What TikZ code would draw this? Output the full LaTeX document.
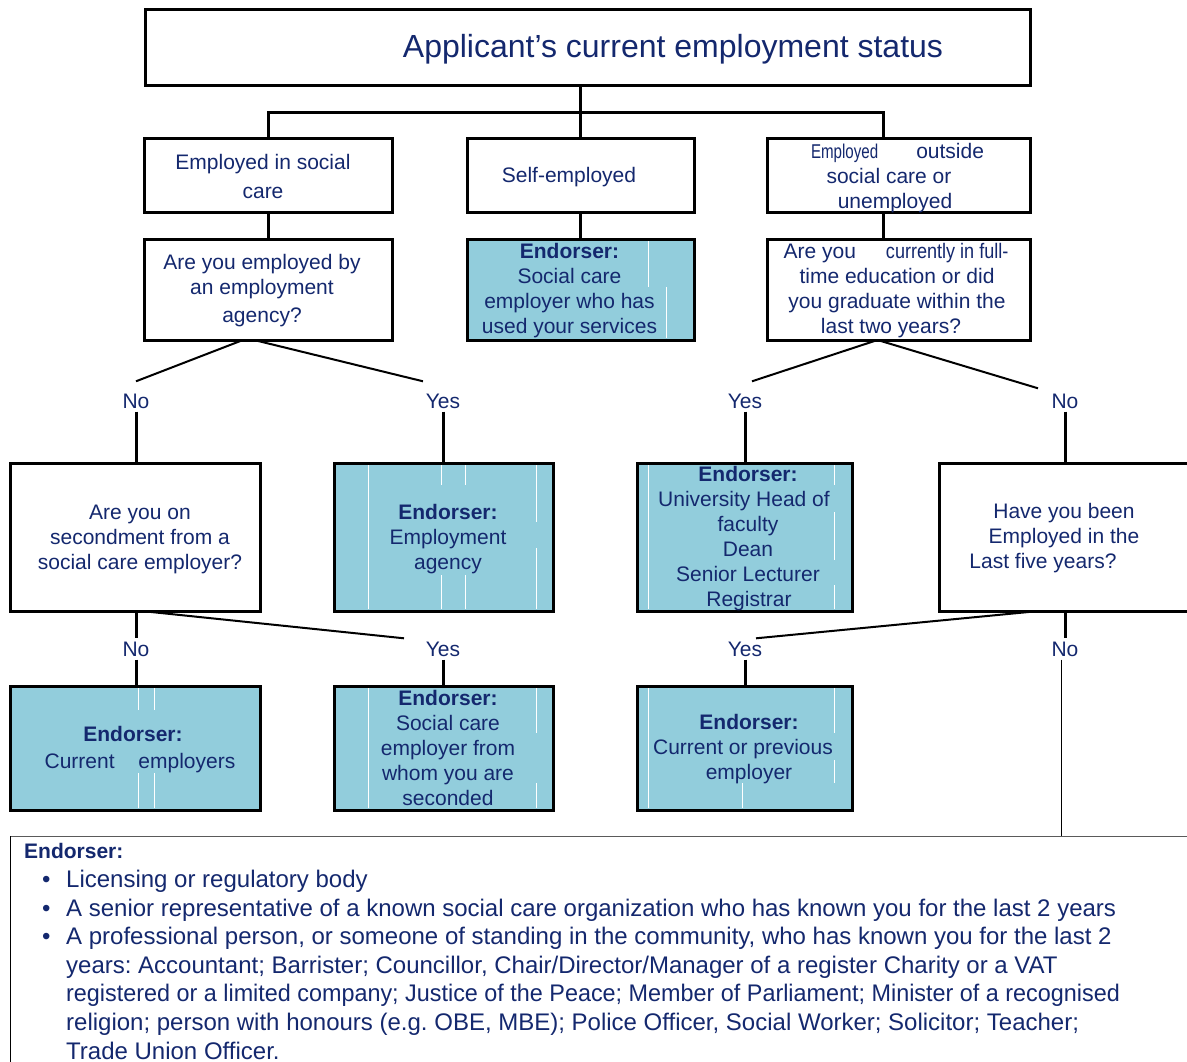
\documentclass[tikz,border=0pt]{standalone}
\usepackage{fontspec}
\setmainfont{Liberation Sans}
\usepackage{graphicx}
\definecolor{navy}{RGB}{20,40,110}
\definecolor{endfill}{RGB}{146,205,220}
\definecolor{legline}{RGB}{90,90,90}
\frenchspacing
\begin{document}
\begin{tikzpicture}[x=1pt,y=-1pt,
  qbox/.style={draw=black, line width=3pt, fill=white, inner sep=0pt, outer sep=0pt},
  ebox/.style={qbox, fill=endfill},
  txt/.style={text=navy, align=center, inner sep=0pt, yshift=-2pt, font=\fontsize{21}{25}\selectfont},
  yn/.style={text=navy, inner xsep=0pt, inner ysep=3pt, text height=15pt, text depth=0pt, font=\fontsize{21}{25}\selectfont},
  conn/.style={line width=3pt},
  diag/.style={line width=2pt},
  glitch/.style={white, line width=1pt}]
\useasboundingbox (0,0) rectangle (1187,1062);
% boxes
\node[qbox, minimum width=885, minimum height=76] (title) at (587.5,48) {};
\node[qbox, minimum width=248, minimum height=74] (esc) at (268,176) {};
\node[qbox, minimum width=227, minimum height=74] (self) at (580.5,176) {};
\node[qbox, minimum width=263, minimum height=74] (outs) at (898.5,176) {};
\node[qbox, minimum width=248, minimum height=101] (agq) at (268,289.5) {};
\node[ebox, minimum width=227, minimum height=101] (e1) at (580.5,289.5) {};
\node[qbox, minimum width=263, minimum height=101] (ftq) at (898.5,289.5) {};
\node[qbox, minimum width=250, minimum height=148] (secq) at (135,537) {};
\node[ebox, minimum width=219, minimum height=148] (e2) at (443.5,537) {};
\node[ebox, minimum width=215, minimum height=148] (univ) at (744.5,537) {};
\node[qbox, minimum width=250, minimum height=148] (have) at (1064,537) {};
\node[ebox, minimum width=250, minimum height=124] (e3) at (135,748) {};
\node[ebox, minimum width=219, minimum height=124] (e4) at (443.5,748) {};
\node[ebox, minimum width=215, minimum height=124] (e5) at (744.5,748) {};
\node[draw=legline, line width=1.2pt, inner sep=0pt, anchor=north west, minimum width=1200, minimum height=260] (legend) at (10,836) {};
\draw[black, line width=1pt] (legend.north west) -- (legend.south west);
% glitch lines
\draw[glitch] (648,241) -- (648,287) (666,287) -- (666,338);
\draw[glitch] (368.5,465) -- (368.5,609) (441,465) -- (441,485) (441,575) -- (441,609)
  (465.7,465) -- (465.7,485) (465.7,575) -- (465.7,609) (536.5,465) -- (536.5,522) (536.5,548) -- (536.5,609);
\draw[glitch] (138.5,688) -- (138.5,710) (154.6,688) -- (154.6,710) (138.5,773) -- (138.5,808) (154.6,773) -- (154.6,808);
\draw[glitch] (368.5,688) -- (368.5,808) (536.5,688) -- (536.5,733) (536.5,783) -- (536.5,808);
\draw[glitch] (648,465) -- (648,609) (834.5,465) -- (834.5,485) (834.5,512) -- (834.5,560) (834.5,585) -- (834.5,609);
\draw[glitch] (648,688) -- (648,808) (834.5,688) -- (834.5,733) (834.5,760) -- (834.5,783) (742,783) -- (742,808);
% texts
\node[txt, font=\fontsize{32}{38}\selectfont] (titleT) at (673,47) {Applicant’s current employment status};
\node[txt] (escT) at (263,174.5) {Employed in social\\[4pt]care};
\node[txt] (selfT) at (569,175) {Self-employed};
\node[txt] (outsT) at (889,176) {\hspace*{17pt}\scalebox{0.72}[0.95]{Employed}\hspace{38pt}outside\\social care or\\\hspace*{12pt}unemployed};
\node[txt] (agqT) at (262,289) {Are you employed by\\an employment\\[3pt]agency?};
\node[txt] (e1T) at (569.5,288.5) {\textbf{Endorser:}\\Social care\\employer who has\\used your services};
\node[txt] (ftqT) at (897,288.5) {\hspace*{-2pt}Are you\hspace{30pt}\scalebox{0.86}[1]{currently in full-}\\time education or did\\you graduate within the\\\hspace*{-12pt}last two years?};
\node[txt] (secqT) at (140,537) {Are you on\\secondment from a\\social care employer?};
\node[txt] (e2T) at (448,537) {\textbf{Endorser:}\\Employment\\agency};
\node[txt] (univT) at (744,537) {\hspace*{8pt}\textbf{Endorser:}\\University Head of\\\hspace*{8pt}faculty\\\hspace*{8pt}Dean\\\hspace*{8pt}Senior Lecturer\\\hspace*{10pt}Registrar};
\node[txt] (haveT) at (1064,536.5) {Have you been\\Employed in the\\\hspace*{-42pt}Last five years?};
\node[txt] (e3T) at (140,747.5) {\hspace*{-14pt}\textbf{Endorser:}\\[2pt]Current\hspace{18pt} employers};
\node[txt] (e4T) at (448,745.5) {\textbf{Endorser:}\\Social care\\employer from\\whom you are\\seconded};
\node[txt] (e5T) at (743,747) {\hspace*{12pt}\textbf{Endorser:}\\Current or previous\\\hspace*{12pt}employer};
% yes/no labels
\node[yn] (noA) at (136,401) {No};
\node[yn] (yesA) at (443,401) {Yes};
\node[yn] (yesB) at (745,401) {Yes};
\node[yn] (noB) at (1065,401) {No};
\node[yn] (noC) at (136,649) {No};
\node[yn] (yesC) at (443,649) {Yes};
\node[yn] (yesD) at (745,649) {Yes};
\node[yn] (noD) at (1065,649) {No};
% top connectors
\coordinate (jn) at (0,113);
\draw[conn] (title.south -| self.north) -- (self.north);
\draw[conn] (esc.north) -- (esc.north |- jn) -- ([xshift=-15.5]outs.north |- jn) -- ([xshift=-15.5]outs.north);
\draw[conn] (esc.south) -- (agq.north);
\draw[conn] (self.south) -- (e1.north);
\draw[conn] ([xshift=-15.5]outs.south) -- ([xshift=-15.5]ftq.north);
% decision connectors
\draw[diag] ([xshift=-25]agq.south) -- ([yshift=9]noA.north);
\draw[diag] ([xshift=-14]agq.south) -- ([xshift=-20,yshift=9]yesA.north);
\draw[diag] ([xshift=-21]ftq.south) -- ([xshift=7,yshift=9]yesB.north);
\draw[diag] ([xshift=-21]ftq.south) -- ([xshift=-27,yshift=2]noB.north);
\draw[conn] (noA.south) -- (noA.south |- secq.north);
\draw[conn] (yesA.south) -- (yesA.south |- e2.north);
\draw[conn] (yesB.south) -- (yesB.south |- univ.north);
\draw[conn] (noB.south) -- (noB.south |- have.north);
\draw[diag] ([xshift=6.5]secq.south) -- ([xshift=-39]yesC.north);
\draw[diag] ([xshift=-25]have.south) -- ([xshift=11]yesD.north);
\draw[conn] (noC.north |- secq.south) -- (noC.north);
\draw[conn] (have.south -| noD.north) -- (noD.north);
\draw[conn] (noC.south) -- (noC.south |- e3.north);
\draw[conn] (yesC.south) -- (yesC.south |- e4.north);
\draw[conn] (yesD.south) -- (yesD.south |- e5.north);
\draw[line width=1pt] ([xshift=-3.5]noD.south) -- ([xshift=-3.5]noD.south |- legend.north);
% legend text
\node[text=navy, inner sep=0pt, anchor=north west, font=\fontsize{21}{25}\selectfont\bfseries] (legT) at (24,842.7) {Endorser:};
\node[text=navy, inner sep=0pt, anchor=north west, align=left, font=\fontsize{24}{28.6}\selectfont] (legL) at (42,870) {%
\makebox[24pt][l]{•}Licensing or regulatory body\\
\makebox[24pt][l]{•}A senior representative of a known social care organization who has known you for the last 2 years\\
\makebox[24pt][l]{•}A professional person, or someone of standing in the community, who has known you for the last 2\\
\hspace*{24pt}years: Accountant; Barrister; Councillor, Chair/Director/Manager of a register Charity or a VAT\\
\hspace*{24pt}\scalebox{0.974}[1]{registered or a limited company; Justice of the Peace; Member of Parliament; Minister of a recognised}\\
\hspace*{24pt}religion; person with honours (e.g. OBE, MBE); Police Officer, Social Worker; Solicitor; Teacher;\\
\hspace*{24pt}Trade Union Officer.};
\end{tikzpicture}
\end{document}
